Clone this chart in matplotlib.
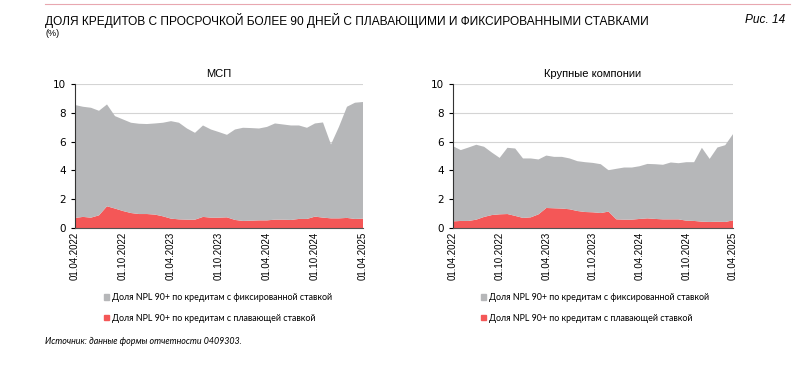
import matplotlib
matplotlib.use("Agg")
import matplotlib.pyplot as plt
from matplotlib.patches import Patch
from matplotlib.lines import Line2D

# monthly data 01.04.2022 .. 01.04.2025, %
msp_total = [8.54, 8.42, 8.35, 8.14, 8.58, 7.77, 7.54, 7.31, 7.24, 7.22, 7.26, 7.31,
             7.42, 7.31, 6.91, 6.61, 7.12, 6.84, 6.66, 6.47, 6.84, 6.96, 6.94, 6.91,
             7.02, 7.26, 7.19, 7.12, 7.12, 6.96, 7.26, 7.33, 5.80, 7.03, 8.42, 8.70, 8.75]
msp_float = [0.70, 0.77, 0.72, 0.88, 1.51, 1.35, 1.18, 1.04, 0.97, 0.97, 0.93, 0.81,
             0.65, 0.60, 0.58, 0.58, 0.77, 0.72, 0.72, 0.74, 0.56, 0.49, 0.51, 0.53,
             0.53, 0.58, 0.58, 0.56, 0.63, 0.63, 0.79, 0.72, 0.67, 0.67, 0.70, 0.63, 0.65]
big_total = [5.68, 5.41, 5.59, 5.78, 5.64, 5.24, 4.87, 5.57, 5.52, 4.83, 4.83, 4.76,
             5.03, 4.94, 4.94, 4.83, 4.64, 4.57, 4.52, 4.43, 4.01, 4.11, 4.20, 4.20,
             4.29, 4.45, 4.43, 4.39, 4.55, 4.50, 4.57, 4.57, 5.57, 4.80, 5.59, 5.75, 6.52]
big_float = [0.46, 0.49, 0.49, 0.58, 0.77, 0.90, 0.95, 0.97, 0.84, 0.70, 0.74, 0.95,
             1.39, 1.37, 1.35, 1.30, 1.18, 1.11, 1.09, 1.04, 1.14, 0.60, 0.58, 0.58,
             0.63, 0.67, 0.63, 0.60, 0.60, 0.60, 0.51, 0.49, 0.44, 0.42, 0.44, 0.42, 0.53]
tick_labels = ["01.04.2022", "01.10.2022", "01.04.2023", "01.10.2023",
               "01.04.2024", "01.10.2024", "01.04.2025"]

grey = "#b6b7b9"
red = "#f45757"
lbl_fixed = "Доля NPL 90+ по кредитам с фиксированной ставкой"
lbl_float = "Доля NPL 90+ по кредитам с плавающей ставкой"

fig = plt.figure(figsize=(8, 3.76), dpi=100)
W, H = 800, 376


def box(x0, y0, x1, y1):
    return [x0 / W, 1 - y1 / H, (x1 - x0) / W, (y1 - y0) / H]


def panel(rect, title, total, flt):
    ax = fig.add_axes(rect)
    x = list(range(len(total)))
    fixed = [t - f for t, f in zip(total, flt)]
    ax.stackplot(x, flt, fixed, colors=[red, grey], linewidth=0)
    ax.set_xlim(0, len(total) - 1)
    ax.set_ylim(0, 10)
    ax.set_yticks(range(0, 11, 2))
    ax.yaxis.grid(True, color="#d4d4d4", lw=0.8)
    ax.set_axisbelow(True)
    ax.set_xticks(range(0, len(total), 6))
    ax.set_xticklabels(tick_labels, rotation=90, fontsize=7, family="Liberation Sans")
    ax.tick_params(axis="y", labelsize=7.5, length=3, width=0.8)
    ax.tick_params(axis="x", length=0, pad=3)
    for s in ["top", "right"]:
        ax.spines[s].set_visible(False)
    ax.spines["left"].set_color("#333333")
    ax.spines["bottom"].set_color("#555555")
    ax.set_title(title, fontsize=8, pad=5, family="Liberation Sans")
    return ax


panel(box(75, 84, 363, 228), "МСП", msp_total, msp_float)
panel(box(453, 84, 733, 228), "Крупные компонии", big_total, big_float)

handles = [Patch(color=grey, label=lbl_fixed), Patch(color=red, label=lbl_float)]
for xl in [104 / W, 481 / W]:
    fig.legend(handles=handles, loc="upper left", bbox_to_anchor=(xl, 1 - 293 / H),
               frameon=False, handlelength=0.6, handleheight=0.6,
               handletextpad=0.3, labelspacing=1.3, borderaxespad=0, borderpad=0,
               prop={"family": "Lato", "size": 6.4})

fig.add_artist(Line2D([45 / W, 790 / W], [1 - 4 / H, 1 - 4 / H], color="#e8a7b0", lw=0.8))
fig.text(45 / W, 1 - 20 / H,
         "ДОЛЯ КРЕДИТОВ С ПРОСРОЧКОЙ БОЛЕЕ 90 ДНЕЙ С ПЛАВАЮЩИМИ И ФИКСИРОВАННЫМИ СТАВКАМИ",
         fontsize=8.6, va="center", family="Liberation Sans")
fig.text(45 / W, 1 - 34 / H, "(%)", fontsize=6.5, va="center", family="Liberation Sans")
fig.text(785 / W, 1 - 20 / H, "Рис. 14", fontsize=8.6, va="center", ha="right",
         style="italic", family="Liberation Sans")
fig.text(45 / W, 1 - 341 / H, "Источник: данные формы отчетности 0409303.",
         fontsize=6.4, va="center", style="italic", family="Lato")

fig.savefig("out.png", dpi=100)
